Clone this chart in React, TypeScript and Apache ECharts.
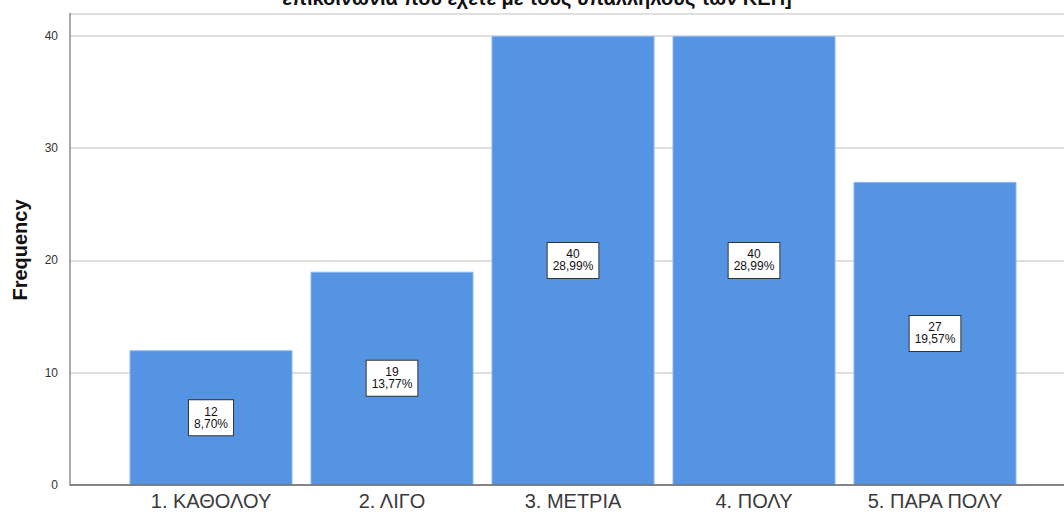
import React, { useEffect, useRef } from "react";
import * as echarts from "echarts";

const categories = ["1. ΚΑΘΟΛΟΥ", "2. ΛΙΓΟ", "3. ΜΕΤΡΙΑ", "4. ΠΟΛΥ", "5. ΠΑΡΑ ΠΟΛΥ"];
const counts = [12, 19, 40, 40, 27];
const percents = ["8,70%", "13,77%", "28,99%", "28,99%", "19,57%"];
const titleText = "επικοινωνία που έχετε με τους υπαλλήλους των ΚΕΠ]";
const yMax = 42;

const FONT = "'Liberation Sans', Arial, sans-serif";

export default function App() {
  const ref = useRef<HTMLDivElement>(null);

  useEffect(() => {
    if (!ref.current) return;
    const chart = echarts.init(ref.current, null, { renderer: "svg" });

    const top = 13.5;
    const bottom = 512 - 485;

    chart.setOption({
      animation: false,
      backgroundColor: "#ffffff",
      textStyle: { fontFamily: FONT },
      grid: [
        // frame: y axis, gridlines and baseline
        { left: 70, right: -20, top, bottom },
        // bars
        { left: 120.5, width: 905, top, bottom },
      ],
      xAxis: [
        {
          gridIndex: 0,
          type: "value",
          min: 0,
          max: 1,
          axisLine: { show: false },
          axisTick: { show: false },
          axisLabel: { show: false },
          splitLine: { show: false },
        },
        {
          gridIndex: 1,
          type: "category",
          data: categories,
          axisLine: { show: false },
          axisTick: { show: false },
          axisLabel: {
            color: "#3a3a3a",
            fontSize: 20,
            fontFamily: FONT,
            margin: 6,
            interval: 0,
          },
        },
      ],
      yAxis: [
        {
          gridIndex: 0,
          type: "value",
          min: 0,
          max: yMax,
          interval: 10,
          axisLine: { show: true, lineStyle: { color: "#8c8c8c", width: 1.5 } },
          axisTick: { show: false },
          axisLabel: {
            color: "#333333",
            fontSize: 12,
            fontFamily: FONT,
            margin: 12,
            showMaxLabel: false,
          },
          splitLine: { show: true, lineStyle: { color: "#d4d4d4", width: 1.5 } },
        },
        {
          gridIndex: 1,
          type: "value",
          min: 0,
          max: yMax,
          show: false,
        },
      ],
      series: [
        {
          type: "bar",
          xAxisIndex: 1,
          yAxisIndex: 1,
          data: counts,
          barWidth: 163,
          itemStyle: { color: "#5594e3", borderColor: "#8ab6ee", borderWidth: 1 },
          label: {
            show: true,
            position: "inside",
            formatter: (p: any) => `${counts[p.dataIndex]}\n${percents[p.dataIndex]}`,
            color: "#111111",
            fontSize: 12,
            lineHeight: 12,
            fontFamily: FONT,
            backgroundColor: "#ffffff",
            borderColor: "#333333",
            borderWidth: 1,
            padding: [6, 5, 5, 5],
            align: "center",
          },
        },
        {
          // x baseline drawn across the whole frame
          type: "line",
          xAxisIndex: 0,
          yAxisIndex: 0,
          data: [],
          markLine: {
            silent: true,
            symbol: "none",
            label: { show: false },
            lineStyle: { color: "#666666", width: 1.5, type: "solid" },
            data: [[{ coord: [0, 0] }, { coord: [1, 0] }]],
          },
        },
      ],
      graphic: [
        {
          type: "text",
          x: 537,
          y: 8,
          style: {
            text: titleText,
            fontFamily: FONT,
            fontSize: 20,
            fontWeight: "bold",
            fill: "#111111",
            align: "center",
            verticalAlign: "bottom",
          },
        },
        {
          type: "text",
          x: 20,
          y: 250,
          rotation: Math.PI / 2,
          style: {
            text: "Frequency",
            fontFamily: FONT,
            fontSize: 20,
            fontWeight: "bold",
            fill: "#111111",
            align: "center",
            verticalAlign: "middle",
          },
        },
      ],
    });

    return () => chart.dispose();
  }, []);

  return (
    <div
      ref={ref}
      style={{ position: "fixed", left: 0, top: 0, width: 1064, height: 512 }}
    />
  );
}
